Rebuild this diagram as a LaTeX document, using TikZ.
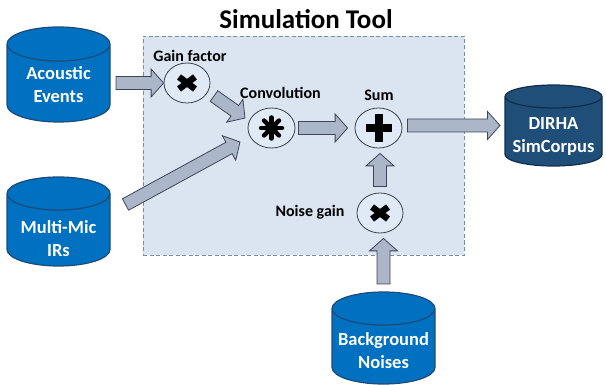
\documentclass[tikz,border=0pt]{standalone}
\usepackage{fontspec}
\setmainfont{Carlito}
\usetikzlibrary{calc,shapes.geometric}
\definecolor{boxfill}{RGB}{219,229,241}
\definecolor{boxedge}{RGB}{120,140,165}
\definecolor{opfill}{RGB}{223,234,246}
\definecolor{opedge}{RGB}{55,65,80}
\definecolor{arrfill}{RGB}{172,182,201}
\definecolor{arredge}{RGB}{60,70,88}
\definecolor{dbblue}{RGB}{0,112,192}
\definecolor{dbedge}{RGB}{30,75,120}
\definecolor{dbdark}{RGB}{31,78,121}
\definecolor{dbdarkedge}{RGB}{18,45,75}
\tikzset{
  cylbox/.style={rectangle, inner sep=0pt, outer sep=0pt, draw=none},
  dbtext/.style={text=white, font=\fontsize{18.5}{23}\selectfont\bfseries, align=center, inner sep=0pt},
  lbl/.style={font=\fontsize{16}{19}\selectfont\bfseries, inner sep=0pt},
  opnode/.style={ellipse, draw=opedge, fill=opfill, line width=0.8pt, inner sep=0pt},
  barrow/.style={fill=arrfill, draw=arredge, line width=0.8pt, line join=miter},
  symline/.style={line width=#1, line cap=butt},
}
\newcommand\dbcyl[4]{%
  \filldraw[fill=#3, draw=#4, line width=1.2pt] let \p1=(#1.north west), \p2=(#1.south east) in
    (\x1,\y1-#2) -- (\x1,\y2+#2) arc[start angle=180,end angle=360,x radius={(\x2-\x1)/2},y radius=#2pt]
    -- (\x2,\y1-#2) arc[start angle=0,end angle=180,x radius={(\x2-\x1)/2},y radius=#2pt] -- cycle
    (\x1,\y1-#2) arc[start angle=180,end angle=540,x radius={(\x2-\x1)/2},y radius=#2pt];
}
% block arrow: #1 tail, #2 tip
\newcommand\blockarr[2]{%
  \path[barrow] let \p1=#1, \p2=#2, \n1={atan2(\y2-\y1,\x2-\x1)}, \n2={veclen(\x2-\x1,\y2-\y1)} in
    {[shift={(\p1)}, rotate=\n1]
    (0,-6.5) -- (\n2-12.5,-6.5) -- (\n2-12.5,-14) -- (\n2,0) -- (\n2-12.5,14) -- (\n2-12.5,6.5) -- (0,6.5) -- cycle};
}
\begin{document}
\begin{tikzpicture}[x=1pt,y=1pt]
\useasboundingbox (0,0) rectangle (606,-385);
\fill[white] (0,0) rectangle (606,-385);

% simulation tool box
\node[draw=boxedge, fill=boxfill, dashed, dash pattern=on 4pt off 2.5pt, line width=0.7pt,
      minimum width=321pt, minimum height=219pt, inner sep=0pt] (tool) at (303.5,-145.5) {};
\node[font=\fontsize{27}{31}\selectfont\bfseries, inner sep=0pt] (title) at (306,-19) {Simulation Tool};

% databases
\node[cylbox, minimum width=103pt, minimum height=95pt] (acoustic) at (58.5,-74.5) {};
\dbcyl{acoustic}{17}{dbblue}{dbedge}
\node[dbtext] (acousticT) at ($(acoustic.center)+(0,-10.5)$) {Acoustic\\Events};

\node[cylbox, minimum width=103pt, minimum height=89pt] (multimic) at (58.5,-221.5) {};
\dbcyl{multimic}{16.5}{dbblue}{dbedge}
\node[dbtext] (multimicT) at ($(multimic.center)+(0,-17)$) {Multi-Mic\\IRs};

\node[cylbox, minimum width=103pt, minimum height=92pt] (bg) at (383.5,-338) {};
\dbcyl{bg}{16.5}{dbblue}{dbedge}
\node[dbtext] (bgT) at ($(bg.center)+(0,-13)$) {Background\\Noises};

\node[cylbox, minimum width=97pt, minimum height=81pt] (dirha) at (553.5,-125.5) {};
\dbcyl{dirha}{11.5}{dbdark}{dbdarkedge}
\node[dbtext] (dirhaT) at ($(dirha.center)+(0,-11)$) {DIRHA\\SimCorpus};

% operators
\node[opnode, minimum width=46pt, minimum height=40pt] (gain) at (187,-83) {};
\node[opnode, minimum width=47pt, minimum height=40pt] (conv) at (271.5,-128) {};
\node[opnode, minimum width=47pt, minimum height=40pt] (sum) at (378.5,-128) {};
\node[opnode, minimum width=46pt, minimum height=40pt] (noise) at (380,-213) {};

% symbols
\draw[symline=6.5pt] ($(gain)+(-8,-6)$) -- ($(gain)+(8,6)$);
\draw[symline=6.5pt] ($(gain)+(-8,6)$) -- ($(gain)+(8,-6)$);
\draw[symline=6.5pt] ($(noise)+(-8,-6)$) -- ($(noise)+(8,6)$);
\draw[symline=6.5pt] ($(noise)+(-8,6)$) -- ($(noise)+(8,-6)$);
\draw[symline=8pt] ($(sum)+(-13,0)$) -- ($(sum)+(13,0)$);
\draw[symline=8pt] ($(sum)+(0,-14)$) -- ($(sum)+(0,14)$);
\foreach \a in {0,45,90,135}
  \draw[line width=4.5pt, line cap=round] ($(conv)+(\a:10.5)$) -- ($(conv)+(\a+180:10.5)$);
\fill ($(conv)$) circle (6.5);

% labels
\node[lbl] (gainL) at (190,-56) {Gain factor};
\node[lbl] (convL) at (280.5,-93) {Convolution};
\node[lbl] (sumL) at (379,-95) {Sum};
\node[lbl] (noiseL) at (310,-212) {Noise gain};

% block arrows
\blockarr{($(acoustic.east |- gain.west)+(6,0)$)}{(gain.west)}
\blockarr{($(gain)+(27,-13)$)}{($(conv)+(-26.5,10)$)}
\blockarr{($(multimic.east)+(15.5,17)$)}{($(conv)+(-31.5,-14)$)}
\blockarr{($(conv.east)+(3,0)$)}{($(sum.west)+(-7,0)$)}
\blockarr{($(sum.east |- dirha.west)+(5,0)$)}{($(dirha.west)+(-5,0)$)}
\blockarr{($(noise.north)+(0,6)$)}{($(noise.north |- sum.south)+(0,-5)$)}
\blockarr{($(bg.north)+(0,8)$)}{($(bg.north |- noise.south)+(0,-5)$)}
\end{tikzpicture}
\end{document}
